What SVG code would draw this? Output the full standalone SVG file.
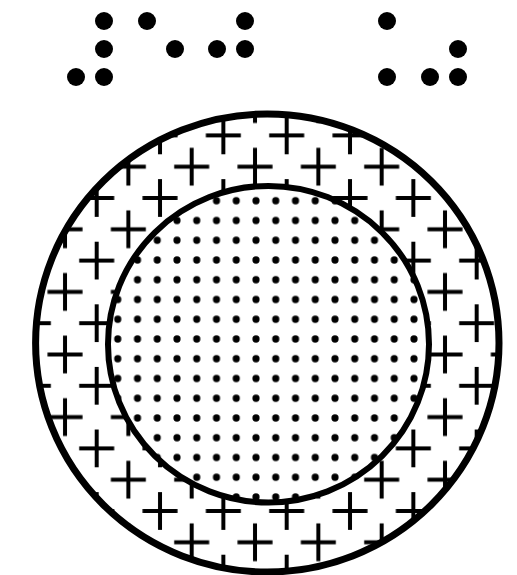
<svg xmlns="http://www.w3.org/2000/svg" width="517" height="575" viewBox="0 0 517 575">
  <style>
    .dot { fill: #000; }
    .ring { fill: none; stroke: #000; }
    .cross { stroke: #000; stroke-width: 4; fill: none; }
  </style>
  <defs>
    <g id="plus">
      <path class="cross" d="M-17.5 0 H17.5 M0 -19 V19"/>
    </g>
    <pattern id="plusPat" patternUnits="userSpaceOnUse" x="160.03" y="135.4" width="63.33" height="62.6">
      <use href="#plus" x="31.665" y="31.3"/>
      <use href="#plus" x="0" y="0"/>
      <use href="#plus" x="63.33" y="0"/>
      <use href="#plus" x="0" y="62.6"/>
      <use href="#plus" x="63.33" y="62.6"/>
    </pattern>
    <pattern id="dotPat" patternUnits="userSpaceOnUse" x="127.625" y="289.625" width="19.75" height="19.75">
      <circle cx="9.875" cy="9.875" r="3.6" fill="#000"/>
    </pattern>
  </defs>
  <rect width="517" height="575" fill="#fff"/>
  <g id="braille">
    <circle class="dot" cx="104" cy="21" r="9"/>
    <circle class="dot" cx="147" cy="21" r="9"/>
    <circle class="dot" cx="245" cy="21" r="9"/>
    <circle class="dot" cx="387" cy="21" r="9"/>
    <circle class="dot" cx="104" cy="49" r="9"/>
    <circle class="dot" cx="175" cy="49" r="9"/>
    <circle class="dot" cx="217" cy="49" r="9"/>
    <circle class="dot" cx="245" cy="49" r="9"/>
    <circle class="dot" cx="458" cy="49" r="9"/>
    <circle class="dot" cx="76" cy="77" r="9"/>
    <circle class="dot" cx="104" cy="77" r="9"/>
    <circle class="dot" cx="387" cy="77" r="9"/>
    <circle class="dot" cx="430" cy="77" r="9"/>
    <circle class="dot" cx="458" cy="77" r="9"/>
  </g>
  <g id="outer-ring">
    <ellipse cx="267.3" cy="343" rx="231.7" ry="229" fill="url(#plusPat)"/>
    <ellipse class="ring" cx="267.3" cy="343" rx="231.7" ry="229" stroke-width="7"/>
  </g>
  <g id="inner-disk">
    <ellipse cx="268.5" cy="344.2" rx="160.5" ry="158.3" fill="#fff"/>
    <ellipse cx="268.5" cy="344.2" rx="160.5" ry="158.3" fill="url(#dotPat)"/>
    <ellipse class="ring" cx="268.5" cy="344.2" rx="160.5" ry="158.3" stroke-width="6"/>
  </g>
</svg>
